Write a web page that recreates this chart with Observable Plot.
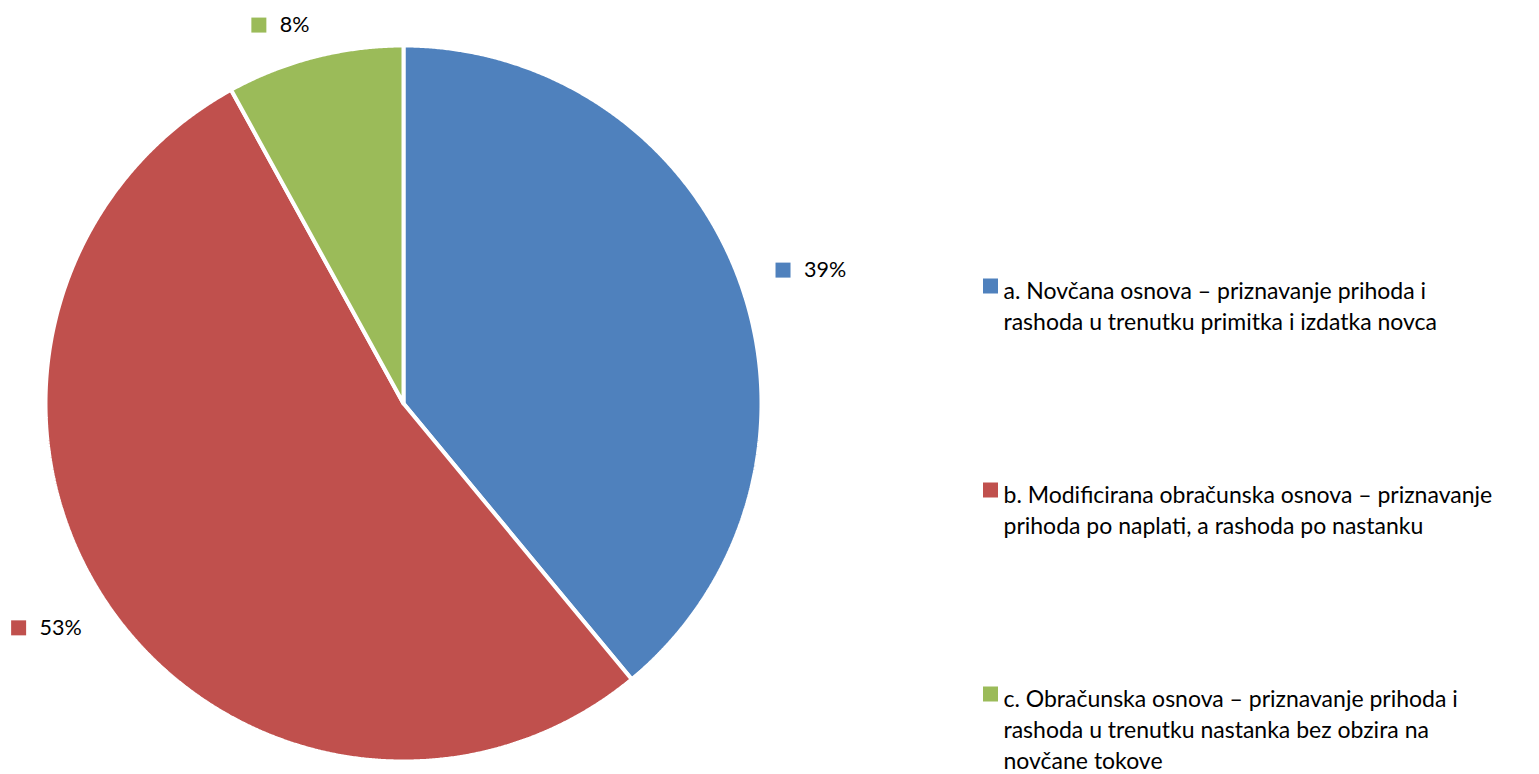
<!DOCTYPE html>
<html>
<head>
<meta charset="utf-8">
<script src="https://cdn.jsdelivr.net/npm/d3@7"></script>
<script src="https://cdn.jsdelivr.net/npm/@observablehq/plot@0.6"></script>
<style>
  html, body { margin: 0; padding: 0; background: #fff; }
  #chart svg { display: block; }
</style>
</head>
<body>
<div id="chart"></div>
<script>
// ---- data ----
const categories = [
  "a. Novčana osnova – priznavanje prihoda i\nrashoda u trenutku primitka i izdatka novca",
  "b. Modificirana obračunska osnova – priznavanje\nprihoda po naplati, a rashoda po nastanku",
  "c. Obračunska osnova – priznavanje prihoda i\nrashoda u trenutku nastanka bez obzira na\nnovčane tokove"
];
const shares = [39, 53, 8];
const percentLabels = ["39%", "53%", "8%"];
const colors = ["#4F81BD", "#C0504D", "#9BBB59"];

// ---- layout ----
const W = 1539, H = 774;
const cx = 403, cy = 403, R = 358;
const FONT = "Lato, 'Open Sans', sans-serif";
const labelFs = 21.5, legendFs = 23;

const total = d3.sum(shares);
let cum = 0;
const slices = shares.map((v, i) => {
  const a0 = cum / total * 2 * Math.PI;
  cum += v;
  const a1 = cum / total * 2 * Math.PI;
  return {cat: categories[i], label: percentLabels[i], a0, a1, mid: (a0 + a1) / 2};
});

// polygon outline of each slice (centre + arc)
const outline = [];
for (const s of slices) {
  outline.push({cat: s.cat, x: cx, y: cy});
  const n = Math.max(2, Math.ceil((s.a1 - s.a0) / (Math.PI / 720)));
  for (let k = 0; k <= n; k++) {
    const a = s.a0 + (s.a1 - s.a0) * k / n;
    outline.push({cat: s.cat, x: cx + R * Math.sin(a), y: cy - R * Math.cos(a)});
  }
  outline.push({cat: s.cat, x: cx, y: cy});
}

// measure label widths
const ctx = document.createElement("canvas").getContext("2d");
ctx.font = `${labelFs}px Lato`;

const labels = slices.map(s => {
  const ax = cx + 1.1 * R * Math.sin(s.mid);
  const ay = cy - 1.1 * R * Math.cos(s.mid);
  const right = Math.sin(s.mid) > 0;
  const w = ctx.measureText(s.label).width;
  const textStart = right ? ax + 30 : ax + 4 - w;
  return {cat: s.cat, label: s.label, tx: textStart, ty: ay + (right ? 0 : 3), sx: textStart - 21};
});

const legendTop = 276, legendStep = 204;
const legend = categories.map((c, i) => ({cat: c, y: legendTop + i * legendStep}));

const chart = Plot.plot({
  width: W,
  height: H,
  margin: 0,
  style: {fontFamily: FONT, background: "#fff"},
  x: {domain: [0, W], range: [0, W], axis: null},
  y: {domain: [0, H], range: [0, H], axis: null},
  color: {domain: categories, range: colors},
  marks: [
    Plot.line(outline, {x: "x", y: "y", z: "cat", fill: "cat", stroke: "white",
      strokeWidth: 4, strokeLinejoin: "miter", curve: "linear"}),
    // percentage labels
    Plot.dot(labels, {x: "sx", y: "ty", fill: "cat", symbol: "square", r: 15 / Math.sqrt(Math.PI)}),
    Plot.text(labels, {x: "tx", y: "ty", text: "label", textAnchor: "start",
      fontSize: labelFs, fill: "#000"}),
    // legend
    Plot.dot(legend, {x: 990, y: d => d.y + 9.5, fill: "cat", symbol: "square", r: 15 / Math.sqrt(Math.PI)}),
    Plot.text(legend, {x: 1003, y: "y", text: "cat", textAnchor: "start", lineAnchor: "top",
      fontSize: legendFs, lineHeight: 31 / legendFs, fill: "#000"})
  ]
});
document.getElementById("chart").appendChild(chart);
</script>
</body>
</html>
